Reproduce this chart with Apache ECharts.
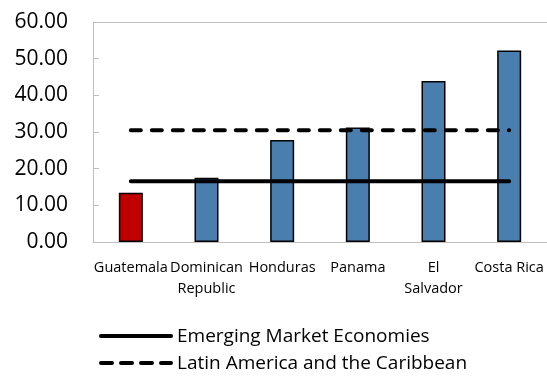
<!DOCTYPE html>
<html><head><meta charset="utf-8">
<script src="https://cdn.jsdelivr.net/npm/echarts@6/dist/echarts.min.js"></script>
<style>html,body{margin:0;padding:0;background:#fff}#c{width:547px;height:385px}</style>
</head><body><div id="c"></div>
<script>
const categories = ['Guatemala', 'Dominican\nRepublic', 'Honduras', 'Panama', 'El\nSalvador', 'Costa Rica'];
const values = [13.4, 17.5, 27.8, 31.2, 43.9, 52.2];
const barColors = ['#C00000', '#4A7EAE', '#4A7EAE', '#4A7EAE', '#4A7EAE', '#4A7EAE'];
const emergingValue = 16.6;
const latamValue = 30.5;
const seriesNames = ['Emerging Market Economies', 'Latin America and the Caribbean'];
const yTicks = { min: 0, max: 60, interval: 10 };

const font = 'Open Sans, Noto Sans, sans-serif';
const chart = echarts.init(document.getElementById('c'), null, { renderer: 'canvas' });

function legendItem(y, name, dash) {
  return [{
    type: 'line', shape: { x1: 101, y1: y, x2: 171, y2: y },
    style: { stroke: '#000', lineWidth: 4, lineCap: 'round', lineDash: dash || null }
  }, {
    type: 'text', x: 177, y: y + 1,
    style: { text: name, fontFamily: font, fontSize: 19, fill: '#000', verticalAlign: 'middle', align: 'left' }
  }];
}

chart.setOption({
  animation: false,
  grid: { left: 93, right: 0, top: 22, bottom: 143, containLabel: false },
  graphic: [].concat(legendItem(336, seriesNames[0]), legendItem(363, seriesNames[1], [11, 9])),
  xAxis: [{
    type: 'category', data: categories,
    axisLine: { lineStyle: { color: '#BFBFBF', width: 1 } },
    axisTick: { inside: true, length: 6, lineStyle: { color: '#BFBFBF' } },
    axisLabel: { fontFamily: font, fontSize: 14.5, color: '#000', margin: 15, lineHeight: 21, interval: 0 }
  }, {
    type: 'category', position: 'top', data: categories,
    axisLine: { show: true, lineStyle: { color: '#BFBFBF', width: 1 } },
    axisTick: { show: false }, axisLabel: { show: false }
  }],
  yAxis: {
    type: 'value', min: yTicks.min, max: yTicks.max, interval: yTicks.interval,
    splitLine: { show: false },
    axisLine: { show: true, lineStyle: { color: '#BFBFBF', width: 1 } },
    axisTick: { show: true, inside: true, length: 6, lineStyle: { color: '#BFBFBF' } },
    axisLabel: { fontFamily: font, fontSize: 21, color: '#000', margin: 25,
      formatter: v => v.toFixed(2) }
  },
  series: [{
    type: 'bar', barWidth: 24, z: 2,
    data: values.map((v, i) => ({ value: v, itemStyle: { color: barColors[i] } })),
    itemStyle: { borderColor: '#000', borderWidth: 1.5 }
  }, {
    name: seriesNames[0], type: 'line', z: 3,
    data: categories.map(() => emergingValue),
    symbol: 'none', showSymbol: false,
    lineStyle: { color: '#000', width: 4, cap: 'round' }
  }, {
    name: seriesNames[1], type: 'line', z: 3,
    data: categories.map(() => latamValue),
    symbol: 'none', showSymbol: false,
    lineStyle: { color: '#000', width: 4, type: [10, 11], cap: 'round' }
  }]
});
</script></body></html>
